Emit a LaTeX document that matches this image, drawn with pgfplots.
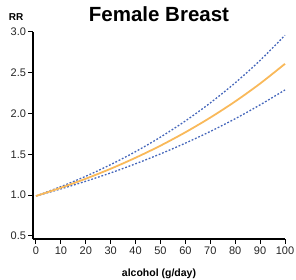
\documentclass[border=0pt]{standalone}
\usepackage{pgfplots}
\pgfplotsset{compat=1.18}
\usepackage{fontspec}
\setmainfont{Liberation Sans}
\definecolor{orng}{HTML}{F9B95A}
\definecolor{blu}{HTML}{4466BB}
\begin{document}
\begin{tikzpicture}
\path[use as bounding box] (0,0) rectangle (296bp,280bp);
\begin{axis}[
  at={(33bp,41bp)}, anchor=south west,
  scale only axis, width=252bp, height=207bp,
  xmin=-1.2, xmax=100, ymin=0.463, ymax=3.0,
  axis lines=left, axis line style={-, line width=1.1pt, black},
  tick align=outside, major tick length=4.5bp,
  tick style={line width=1pt, black},
  xtick={0,10,...,100}, ytick={0.5,1.0,...,3.0},
  /pgf/number format/assume math mode=true,
  yticklabel style={/pgf/number format/fixed, /pgf/number format/fixed zerofill, /pgf/number format/precision=1, font=\fontsize{11bp}{12bp}\selectfont, text=black!85, xshift=1bp},
  xticklabel style={font=\fontsize{11bp}{12bp}\selectfont, text=black!85},
  title={\bfseries Female Breast},
  title style={at={(axis description cs:0.5,1)}, anchor=base, yshift=5bp, font=\fontsize{20.5bp}{22bp}\selectfont},
  xlabel={\bfseries alcohol (g/day)},
  xlabel style={at={(axis description cs:0.5,0)}, anchor=base, yshift=-37bp, font=\fontsize{10.5bp}{12bp}\selectfont},
  ylabel={\bfseries RR},
  every axis y label/.style={at={(axis description cs:-0.067,1)}, anchor=base, yshift=11bp, font=\fontsize{10bp}{12bp}\selectfont},
  clip=false,
]
\addplot[blu, line width=1.3pt, dash pattern=on 1.8bp off 1.8bp, smooth] coordinates {
(0,0.990) (10,1.105) (20,1.232) (30,1.375) (40,1.534) (50,1.712) (60,1.910) (70,2.131) (80,2.377) (90,2.652) (100,2.960)};
\addplot[blu, line width=1.3pt, dash pattern=on 1.8bp off 1.8bp, smooth] coordinates {
(0,0.990) (10,1.077) (20,1.171) (30,1.273) (40,1.385) (50,1.506) (60,1.638) (70,1.781) (80,1.937) (90,2.107) (100,2.290)};
\addplot[orng, line width=1.8pt, smooth] coordinates {
(0,0.990) (10,1.091) (20,1.202) (30,1.324) (40,1.459) (50,1.607) (60,1.771) (70,1.951) (80,2.149) (90,2.368) (100,2.610)};
\end{axis}
\end{tikzpicture}
\end{document}
